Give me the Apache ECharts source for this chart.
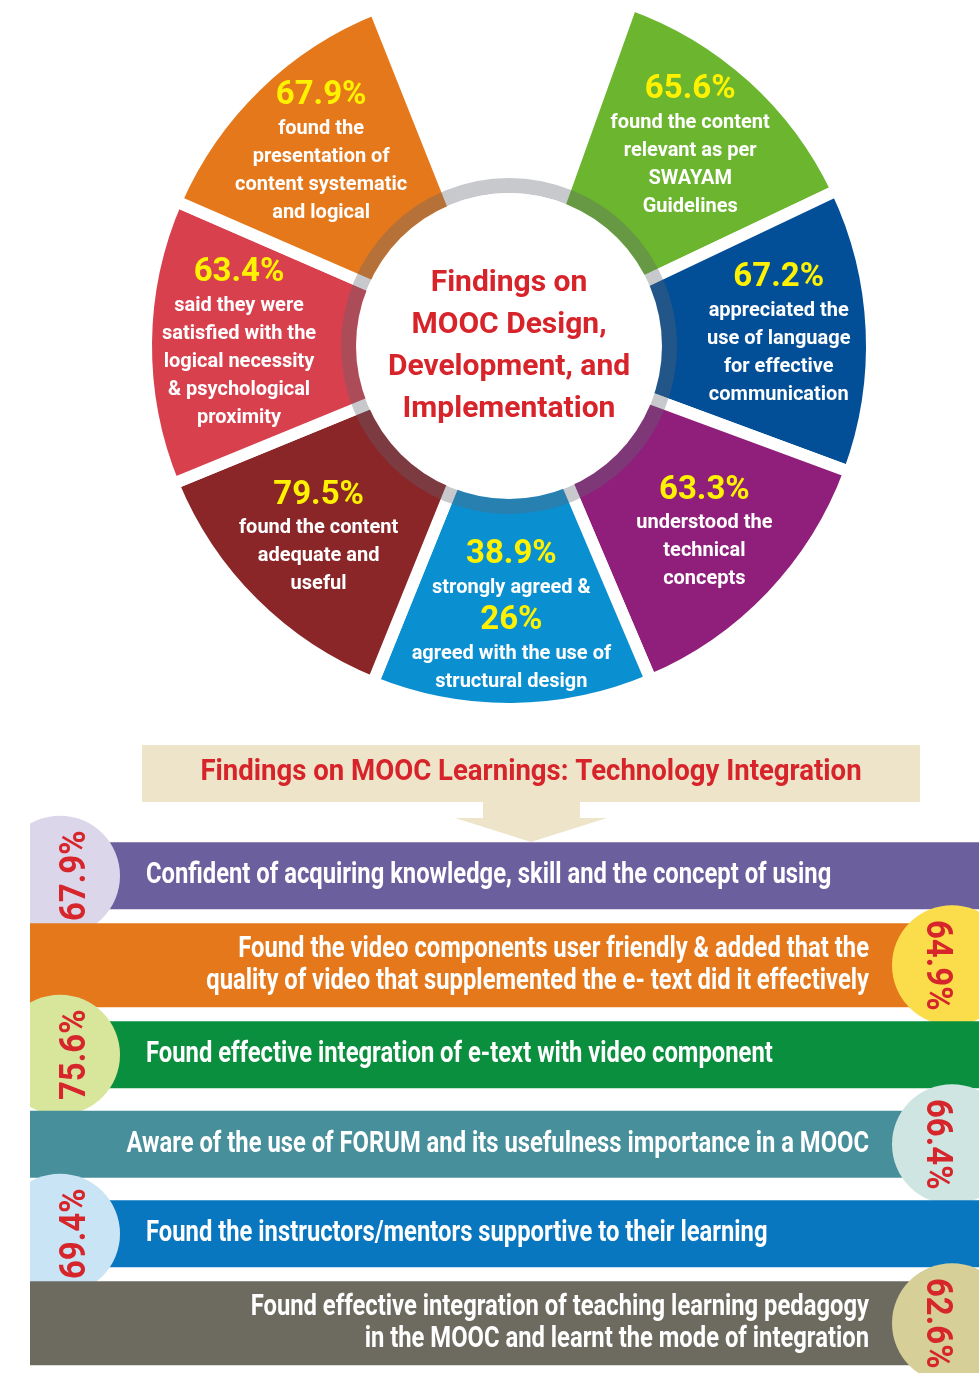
<!DOCTYPE html>
<html>
<head>
<meta charset="utf-8">
<title>Findings on MOOC</title>
<script src="https://cdn.jsdelivr.net/npm/echarts@6.0.0/dist/echarts.min.js"></script>
<style>
  html, body { margin: 0; padding: 0; background: #fff; }
  #chart { width: 979px; height: 1373px; }
</style>
</head>
<body>
<div id="chart"></div>
<script>
// wheel segments, clockwise starting right of the empty slot at the top
const wheelPct = ['65.6%', '67.2%', '63.3%', '38.9%', '79.5%', '63.4%', '67.9%'];
const wheelText = [
  'found the content\nrelevant as per\nSWAYAM\nGuidelines',
  'appreciated the\nuse of language\nfor effective\ncommunication',
  'understood the\ntechnical\nconcepts',
  'strongly agreed &\n26%\nagreed with the use of\nstructural design',
  'found the content\nadequate and\nuseful',
  'said they were\nsatisfied with the\nlogical necessity\n& psychological\nproximity',
  'found the\npresentation of\ncontent systematic\nand logical'
];
const wheelColors = ['#6cb52e', '#034f97', '#8f1f7b', '#0a8fd1', '#8a2528', '#d8404e', '#e5781b'];
const wheelSpan = [44.9, 45.7, 46.7, 45.0, 45.7, 45.8, 44.8]; // degrees
const topGapSpan = 41.4;
const wheelTitle = 'Findings on\nMOOC Design,\nDevelopment, and\nImplementation';

// bands under the header
const listTitle = 'Findings on MOOC Learnings: Technology Integration';
const rowText = [
  'Confident of acquiring knowledge, skill and the concept of using',
  'Found the video components user friendly & added that the\nquality of video that supplemented the e- text did it effectively',
  'Found effective integration of e-text with video component',
  'Aware of the use of FORUM and its usefulness importance in a MOOC',
  'Found the instructors/mentors supportive to their learning',
  'Found effective integration of teaching learning pedagogy\nin the MOOC and learnt the mode of integration'
];
const rowPct = ['67.9%', '64.9%', '75.6%', '66.4%', '69.4%', '62.6%'];
const rowSide = ['left', 'right', 'left', 'right', 'left', 'right'];
const rowColors = ['#6c5f9d', '#e5781b', '#0a8f3e', '#468f9b', '#0877c0', '#6d6b60'];
const circleColors = ['#dcd6ea', '#fbdc4a', '#d8e69c', '#cfe5e2', '#c9e4f5', '#d6cf98'];

const FONT = "Roboto, 'Liberation Sans', sans-serif";
const CENTER = [509, 346];
const OUTER_R = 363;
const LABEL_R = 270;
const START = 70.3;
const BEIGE = '#eee4c9';
const RED = '#d7242a';

const chart = echarts.init(document.getElementById('chart'));

const sliceData = wheelSpan.map((v, i) => ({
  value: v, name: wheelPct[i], itemStyle: { color: wheelColors[i] }
})).concat([{ value: topGapSpan, name: 'gap', itemStyle: { color: 'transparent', borderWidth: 0 } }]);

// angle of each segment's middle, counted clockwise from START
const wheelMid = [];
wheelSpan.reduce((acc, v) => { wheelMid.push(acc + v / 2); return acc + v; }, 0);

function wheelRich(i) {
  const lines = [wheelPct[i]].concat(wheelText[i].split('\n'));
  return lines.map(l => /^\d+(\.\d+)?%$/.test(l) ? '{p|' + l + '}' : '{t|' + l + '}').join('\n');
}

chart.setOption({
  animation: false,
  backgroundColor: '#fff',
  polar: { center: CENTER, radius: [0, OUTER_R] },
  angleAxis: { type: 'value', min: 0, max: 360, startAngle: START, clockwise: true, show: false },
  radiusAxis: { type: 'value', min: 0, max: OUTER_R, show: false },
  grid: { left: 30, right: 0, top: 831, bottom: 5 },
  xAxis: { type: 'value', min: 0, max: 100, show: false },
  yAxis: { type: 'category', inverse: true, data: rowPct, show: false },
  graphic: [
    { type: 'rect', shape: { x: 142, y: 745, width: 778, height: 57 }, style: { fill: BEIGE } },
    {
      type: 'polygon',
      shape: { points: [[483, 801], [580, 801], [580, 818], [607, 818], [531, 842], [455, 818], [483, 818]] },
      style: { fill: BEIGE }
    },
    {
      type: 'text', x: 531, y: 773, scaleX: 0.95,
      style: { text: listTitle, fill: RED, font: 'bold 29px ' + FONT, align: 'center', verticalAlign: 'middle' }
    },
    // crop left edge of the circles
    { type: 'rect', z: 100, shape: { x: 0, y: 790, width: 30, height: 600 }, style: { fill: '#fff' } },
    {
      type: 'text', z: 100, x: CENTER[0], y: CENTER[1],
      style: {
        text: wheelTitle, fill: RED, font: 'bold 30px ' + FONT,
        align: 'center', verticalAlign: 'middle', lineHeight: 42
      }
    }
  ],
  series: [
    {
      type: 'pie',
      silent: true,
      center: CENTER,
      radius: [0, OUTER_R],
      startAngle: START,
      clockwise: true,
      itemStyle: { borderColor: '#fff', borderWidth: 12 },
      label: { show: false },
      labelLine: { show: false },
      data: sliceData
    },
    {
      type: 'pie',
      silent: true,
      center: CENTER,
      radius: [153, 168],
      label: { show: false },
      labelLine: { show: false },
      data: [{ value: 1, itemStyle: { color: 'rgba(95, 100, 112, 0.35)' } }]
    },
    {
      type: 'pie',
      silent: true,
      center: CENTER,
      radius: [0, 153],
      label: { show: false },
      labelLine: { show: false },
      data: [{ value: 1, itemStyle: { color: '#fff' } }]
    },
    {
      // segment texts, placed on the polar axes at each segment's middle angle
      type: 'custom',
      coordinateSystem: 'polar',
      silent: true,
      z: 20,
      encode: { radius: 0, angle: 1 },
      data: wheelMid.map(m => [LABEL_R, m]),
      renderItem: (params, api) => {
        const p = api.coord([api.value(0), api.value(1)]);
        return {
          type: 'text',
          x: p[0], y: p[1],
          style: {
            text: wheelRich(params.dataIndex),
            align: 'center', verticalAlign: 'middle',
            rich: {
              p: { fill: '#fff200', fontSize: 33, fontWeight: 'bold', fontFamily: FONT, lineHeight: 38, align: 'center' },
              t: { fill: '#fff', fontSize: 20, fontWeight: 'bold', fontFamily: FONT, lineHeight: 28, align: 'center' }
            }
          }
        };
      }
    },
    {
      type: 'custom',
      coordinateSystem: 'cartesian2d',
      clip: false,
      silent: true,
      encode: { x: [0, 1], y: 2 },
      data: rowText.map((t, i) => [0, 100, i]),
      renderItem: (params, api) => {
        const i = params.dataIndex;
        const a = api.coord([api.value(0), i]);
        const b = api.coord([api.value(1), i]);
        const slot = api.size([0, 1])[1];
        const twoLines = rowText[i].indexOf('\n') >= 0;
        const h = slot * (twoLines ? 0.94 : 0.75);
        const left = rowSide[i] === 'left';
        return {
          type: 'group',
          children: [
            {
              type: 'rect',
              shape: { x: a[0], y: a[1] - h / 2, width: b[0] - a[0], height: h },
              style: { fill: rowColors[i] }
            },
            {
              type: 'text',
              x: left ? a[0] + 116 : b[0] - 110,
              y: a[1],
              scaleX: 0.82,
              style: {
                text: rowText[i], fill: '#fff', font: 'bold 29px ' + FONT,
                align: left ? 'left' : 'right', verticalAlign: 'middle', lineHeight: 32
              }
            },
            {
              type: 'circle',
              shape: { cx: left ? a[0] + 30 : b[0] - 27, cy: a[1], r: 60 },
              style: { fill: circleColors[i] }
            },
            {
              type: 'text',
              x: left ? a[0] + 46 : b[0] - 43,
              y: a[1],
              rotation: left ? Math.PI / 2 : -Math.PI / 2,
              scaleX: 0.89,
              style: {
                text: rowPct[i], fill: '#d6262b', font: 'bold 37px ' + FONT,
                align: 'center', verticalAlign: 'middle'
              }
            }
          ]
        };
      }
    }
  ]
});
</script>
</body>
</html>
